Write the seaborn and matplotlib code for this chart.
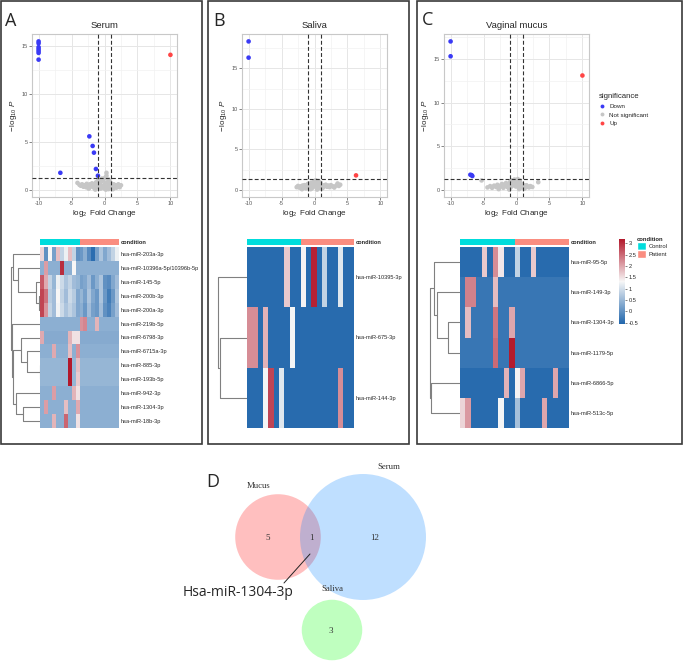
import numpy as np
import pandas as pd
import matplotlib
matplotlib.use("Agg")
import matplotlib.pyplot as plt
import seaborn as sns
from matplotlib.colors import LinearSegmentedColormap, ListedColormap
from matplotlib.patches import Circle, Rectangle, Patch
from matplotlib.lines import Line2D
from matplotlib.ticker import MultipleLocator

# ---------------- data ----------------
SIG_ORDER = ["Down", "Not significant", "Up"]
SIG_COLORS = {"Down": "#3a3af5", "Not significant": "#c6c6c6", "Up": "#ff4545"}

# serum volcano
SERUM_DOWN_FC = [-10, -10, -10, -10, -10, -10, -10, -6.7, -2.3, -1.8, -1.6, -1.3, -1.0]
SERUM_DOWN_P = [15.5, 15.3, 14.9, 14.7, 14.5, 14.3, 13.6, 1.8, 5.6, 4.6, 3.9, 2.2, 1.5]
SERUM_UP_FC = [10]
SERUM_UP_P = [14.1]
SERUM_NS_FC = [-4.1, -3.8, -3.6, -3.4, -3.2, -3.0, -2.8, -2.7, -2.5, -2.3, -2.2, -2.0, -1.9, -1.7, -1.6,
               -1.5, -1.3, -1.2, -1.0, -0.9, -0.8, -0.7, -0.6, -0.5, -0.4, -0.3, -0.2, -0.1, 0.0, 0.1,
               0.2, 0.3, 0.3, 0.4, 0.5, 0.6, 0.7, 0.8, 0.9, 1.0, 1.1, 1.2, 1.4, 1.5, 1.7,
               1.8, 2.0, 2.1, 2.3, 2.5, -2.4, -1.4, 0.2, 0.6, 1.3]
SERUM_NS_P = [0.75, 0.55, 0.45, 0.6, 0.35, 0.5, 0.3, 0.65, 0.45, 0.25, 0.6, 0.4, 0.7, 0.3, 0.55,
              0.2, 0.8, 0.45, 0.95, 0.3, 1.1, 0.6, 0.15, 0.9, 1.2, 0.4, 1.0, 0.2, 0.6, 1.3,
              0.35, 1.5, 1.8, 0.8, 0.2, 1.1, 0.5, 0.9, 0.3, 0.7, 0.45, 0.25, 0.6, 0.35, 0.5,
              0.25, 0.45, 0.6, 0.3, 0.5, 0.15, 0.05, 0.05, 0.1, 0.1]

# saliva volcano
SALIVA_DOWN_FC = [-10, -10]
SALIVA_DOWN_P = [18.3, 16.3]
SALIVA_UP_FC = [6.3]
SALIVA_UP_P = [1.8]
SALIVA_NS_FC = [-2.7, -2.5, -2.3, -2.1, -2.0, -1.8, -1.6, -1.5, -1.3, -1.1, -1.0, -0.8, -0.7, -0.5, -0.4,
                -0.2, -0.1, 0.0, 0.1, 0.2, 0.3, 0.4, 0.5, 0.6, 0.7, 0.8, 0.9, 1.0, 1.2, 1.3,
                1.5, 1.7, 1.9, 2.1, 2.3, 2.5, 2.8, 3.0, 3.3, 3.5, 3.7, 3.9, -1.9, -0.6, 0.4, 1.1]
SALIVA_NS_P = [0.35, 0.5, 0.3, 0.45, 0.25, 0.55, 0.35, 0.6, 0.2, 0.5, 0.75, 0.3, 0.6, 0.9, 0.2,
               0.7, 1.0, 0.45, 0.8, 1.2, 0.3, 0.95, 0.55, 1.1, 0.25, 0.7, 0.9, 0.4, 0.6, 0.3,
               0.5, 0.65, 0.4, 0.55, 0.35, 0.6, 0.45, 0.3, 0.55, 0.8, 0.5, 0.65, 0.1, 0.1, 0.05, 0.15]

# vaginal mucus volcano
MUCUS_DOWN_FC = [-10, -10, -7.0, -6.8, -6.7]
MUCUS_DOWN_P = [17.0, 15.3, 1.75, 1.7, 1.6]
MUCUS_UP_FC = [10]
MUCUS_UP_P = [13.1]
MUCUS_NS_FC = [-4.4, -4.0, -3.7, -3.4, -3.1, -2.9, -2.6, -2.4, -2.2, -2.0, -1.8, -1.6, -1.4, -1.2, -1.0,
               -0.9, -0.7, -0.6, -0.4, -0.3, -0.1, 0.0, 0.1, 0.2, 0.3, 0.4, 0.5, 0.6, 0.7, 0.8,
               1.0, 1.1, 1.3, 1.5, 1.7, 1.9, 2.1, 2.4, -5.3, 3.3, -2.7, -1.1, 0.4, 1.2]
MUCUS_NS_P = [0.3, 0.45, 0.25, 0.5, 0.35, 0.6, 0.3, 0.5, 0.7, 0.25, 0.55, 0.8, 0.35, 0.65, 0.9,
              0.3, 1.1, 0.5, 0.8, 1.2, 0.4, 1.0, 0.6, 1.25, 0.35, 0.9, 1.1, 0.5, 0.75, 0.3,
              0.6, 0.45, 0.3, 0.55, 0.4, 0.3, 0.45, 0.35, 1.1, 0.9, 0.1, 0.05, 0.1, 0.15]

CONDITION = ["Control"] * 10 + ["Patient"] * 10

SERUM_MIRS = ["hsa-miR-203a-3p", "hsa-miR-10396a-5p/10396b-5p", "hsa-miR-145-5p", "hsa-miR-200b-3p",
              "hsa-miR-200a-3p", "hsa-miR-219b-5p", "hsa-miR-6798-3p", "hsa-miR-6715a-3p",
              "hsa-miR-885-3p", "hsa-miR-193b-5p", "hsa-miR-942-3p", "hsa-miR-1304-3p", "hsa-miR-18b-3p"]
SERUM_EXPR = [
    [1.3, -0.4, 1.0, -0.2, 1.5, 0.5, 0.9, 1.5, 0.5, -0.4, -0.3, 0.0, -0.5, -0.9, -0.2, 0.3, -0.1, 0.2, 0.5, 0.9],
    [0, 1.8, 0, 0, 0, 2.8, 0, 0, 1.0, 0, 0, 0, 0, 0, 0, 0, 0, 0, 0, 0],
    [2.4, 1.7, 0.5, 0.1, 0.9, 0.6, 0.3, 0.5, 0.2, 0.1, -0.2, -0.1, 0.2, -0.3, 0.0, 0.3, -0.4, -0.5, -0.1, 0.2],
    [2.6, 2.2, 0.4, 0.2, 1.0, 0.5, 0.2, 0.6, 0.4, -0.1, 0.1, -0.2, 0.3, -0.1, -0.3, 0.3, -0.3, -0.7, -0.3, 0.3],
    [2.6, 1.9, 0.5, 0.2, 0.95, 0.6, 0.3, 0.5, 0.3, -0.1, 0.0, -0.3, 0.2, -0.2, -0.3, 0.2, -0.4, -0.6, -0.2, 0.2],
    [0, 0, 0, 0, 0, 0, 0, 0, 0, 0, 1.9, 2.0, 0, 0, 1.6, 0, 0, 0, 0, 0],
    [1.7, -0.05, -0.05, -0.05, -0.05, -0.05, -0.05, 1.6, 1.2, 1.2, -0.05, -0.05, -0.05, -0.05, -0.05, -0.05, -0.05, -0.05, -0.05, -0.05],
    [0, 0, 0, 1.7, 0, 0, 0, 1.5, 0, 1.9, 0, 0, 0, 0, 0, 0, 0, 0, 0, 0],
    [0.1, 0.1, 0.1, 0.1, 0.1, 0.1, 0.1, 3.0, 0.1, 1.5, 0.1, 0.1, 0.1, 0.1, 0.1, 0.1, 0.1, 0.1, 0.1, 0.1],
    [0.1, 0.1, 0.1, 0.1, 0.1, 0.1, 0.1, 3.0, 0.1, 1.4, 0.1, 0.1, 0.1, 0.1, 0.1, 0.1, 0.1, 0.1, 0.1, 0.1],
    [0, 0, 0, 1.8, 0, 0, 0, 0, 1.6, 1.2, 0, 0, 0, 0, 0, 0, 0, 0, 0, 0],
    [0, 1.8, 0, 0, 0, 0, 1.5, 0, 0, 1.7, 0, 0, 0, 0, 0, 0, 0, 0, 0, 0],
    [0, 0, 0, 1.6, 0, 0, 2.3, 0, 0, 1.2, 0, 0, 0, 0, 0, 0, 0, 0, 0, 0],
]
# merges: (child a, child b, height); new cluster ids follow the leaves
SERUM_TREE = [(3, 4, 4), (2, 13, 12), (1, 14, 65), (0, 15, 82), (8, 9, 1), (7, 17, 40),
              (6, 18, 58), (11, 12, 52), (10, 20, 72), (19, 21, 80), (5, 22, 84), (16, 23, 87)]

SALIVA_MIRS = ["hsa-miR-10395-3p", "hsa-miR-675-3p", "hsa-miR-144-3p"]
SALIVA_EXPR = [
    [-0.5, -0.5, -0.5, -0.5, -0.5, -0.5, -0.5, 1.7, -0.5, -0.5, 1.35, -0.5, 3.1, -0.5, 0.85, -0.5, -0.5, 1.1, -0.5, -0.5],
    [2.2, 2.2, -0.5, 1.9, -0.5, -0.5, -0.5, -0.5, 1.3, -0.5, -0.5, -0.5, -0.5, -0.5, -0.5, -0.5, -0.5, -0.5, -0.5, -0.5],
    [-0.5, -0.5, -0.5, 1.3, 2.8, -0.5, 1.1, -0.5, -0.5, -0.5, -0.5, -0.5, -0.5, -0.5, -0.5, -0.5, -0.5, 2.2, -0.5, -0.5],
]
SALIVA_TREE = [(1, 2, 27), (0, 3, 29)]

MUCUS_MIRS = ["hsa-miR-95-5p", "hsa-miR-149-3p", "hsa-miR-1304-3p", "hsa-miR-1179-5p",
              "hsa-miR-6866-5p", "hsa-miR-513c-5p"]
MUCUS_EXPR = [
    [-0.5, -0.5, -0.5, -0.5, 1.7, -0.5, 2.2, 1.45, -0.5, -0.5, 0.85, -0.5, -0.5, 1.7, -0.5, -0.5, -0.5, -0.5, -0.5, -0.5],
    [-0.35, 2.3, 2.3, -0.35, -0.35, -0.35, 1.8, -0.35, -0.35, -0.35, -0.35, -0.35, -0.35, -0.35, -0.35, -0.35, -0.35, -0.35, -0.35, -0.35],
    [-0.35, 1.8, -0.35, -0.35, -0.35, -0.35, 2.4, -0.35, -0.35, 2.0, -0.35, -0.35, -0.35, -0.35, -0.35, -0.35, -0.35, -0.35, -0.35, -0.35],
    [-0.35, -0.35, -0.35, -0.35, -0.35, -0.35, 2.5, -0.35, -0.35, 3.15, -0.35, -0.35, -0.35, -0.35, -0.35, -0.35, -0.35, -0.35, -0.35, -0.35],
    [-0.5, -0.5, -0.5, -0.5, -0.5, -0.5, -0.5, -0.5, 1.9, -0.5, 1.35, 2.0, -0.5, -0.5, -0.5, -0.5, -0.5, 2.0, -0.5, -0.5],
    [1.6, 2.1, -0.5, -0.5, -0.5, -0.5, -0.5, 1.3, -0.5, -0.5, 0.6, -0.5, -0.5, -0.5, -0.5, 2.0, -0.5, -0.5, -0.5, -0.5],
]
MUCUS_TREE = [(2, 3, 12), (1, 6, 23), (0, 7, 26), (4, 5, 29), (8, 9, 30)]

CBAR_TICKS = [-0.5, 0, 0.5, 1, 1.5, 2, 2.5, 3]

VENN_SETS = ["Mucus", "Serum", "Saliva"]
VENN_SIZES = [6, 13, 3]
VENN_REGIONS = ["5", "1", "12", "3"]

CYAN = "#00dcdc"
SALMON = "#fa8d80"
HEAT_CMAP = LinearSegmentedColormap.from_list("bwr_pheat", ["#2166ac", "#f7f7f7", "#b2182b"])

# ---------------- style ----------------
sns.set_theme(style="white")
plt.rcParams["font.family"] = ["Liberation Sans", "DejaVu Sans"]
plt.rcParams["axes.unicode_minus"] = False
plt.rcParams["mathtext.fontset"] = "custom"
plt.rcParams["mathtext.rm"] = "Liberation Sans"
plt.rcParams["mathtext.it"] = "Liberation Sans:italic"

W, H = 685, 661
fig = plt.figure(figsize=(W / 100, H / 100), dpi=100)


def box(x0, y0, x1, y1):
    return [x0 / W, 1 - y1 / H, (x1 - x0) / W, (y1 - y0) / H]


def volcano_frame(down_fc, down_p, ns_fc, ns_p, up_fc, up_p):
    return pd.DataFrame({
        "log2fc": down_fc + ns_fc + up_fc,
        "logp": down_p + ns_p + up_p,
        "significance": ["Down"] * len(down_fc) + ["Not significant"] * len(ns_fc) + ["Up"] * len(up_fc),
    })


def volcano(ax, df, title):
    ax.set_facecolor("white")
    ax.set_axisbelow(True)
    sns.scatterplot(data=df, x="log2fc", y="logp", hue="significance", hue_order=SIG_ORDER,
                    palette=SIG_COLORS, s=11, linewidth=0, ax=ax, legend=False, zorder=3)
    for v in (-1, 1):
        ax.axvline(v, ls=(0, (3.5, 2)), color="#333333", lw=0.8, zorder=4)
    ax.axhline(-np.log10(0.05), ls=(0, (3.5, 2)), color="#333333", lw=0.8, zorder=4)
    lo, hi = df["logp"].min(), df["logp"].max()
    pad = (hi - lo) * 0.05
    ax.set_ylim(lo - pad, hi + pad)
    ax.set_xlim(-11, 11)
    ax.set_xticks([-10, -5, 0, 5, 10])
    ax.xaxis.set_minor_locator(MultipleLocator(2.5))
    ax.yaxis.set_major_locator(MultipleLocator(5))
    ax.yaxis.set_minor_locator(MultipleLocator(2.5))
    ax.grid(which="major", color="#e6e6e6", lw=0.7)
    ax.grid(which="minor", color="#f2f2f2", lw=0.5)
    for s in ax.spines.values():
        s.set_color("#c8c8c8")
        s.set_linewidth(0.8)
    ax.tick_params(which="major", labelsize=4, colors="#555555", length=2, width=0.5, pad=1,
                   bottom=True, left=True)
    ax.tick_params(which="minor", length=0)
    ax.set_title(title, fontsize=6.8, pad=4)
    ax.set_xlabel(r"$\log_{2}$ Fold Change", fontsize=5.8, labelpad=1.5)
    ax.set_ylabel(r"$-\,\log_{10}\,P$", fontsize=5.8, labelpad=2)


def dendrogram(ax, merges, n, hmax):
    ypos = {i: i + 0.5 for i in range(n)}
    hgt = {i: 0.0 for i in range(n)}
    for k, (a, b, h) in enumerate(merges):
        ax.plot([hgt[a], h, h, hgt[b]], [ypos[a], ypos[a], ypos[b], ypos[b]],
                color="#808080", lw=0.8, solid_capstyle="butt")
        ypos[n + k] = (ypos[a] + ypos[b]) / 2
        hgt[n + k] = h
    ax.set_xlim(hmax, 0)
    ax.set_ylim(n, 0)
    ax.axis("off")


def heat_block(x0, x1, dx0, expr, mirs, tree, hmax, vmin, vmax, cbar_ax=None):
    ann = fig.add_axes(box(x0, 239, x1, 245))
    codes = [[0 if c == "Control" else 1 for c in CONDITION]]
    sns.heatmap(codes, ax=ann, cmap=ListedColormap([CYAN, SALMON]), cbar=False,
                xticklabels=False, yticklabels=["condition"])
    ann.yaxis.tick_right()
    ann.tick_params(axis="y", length=0, pad=1.5, labelsize=4.1, rotation=0)
    for t in ann.get_yticklabels():
        t.set_fontweight("bold")

    ax = fig.add_axes(box(x0, 247, x1, 428))
    df = pd.DataFrame(expr, index=mirs, columns=[f"S{i + 1}" for i in range(len(CONDITION))])
    sns.heatmap(df, ax=ax, cmap=HEAT_CMAP, vmin=vmin, vmax=vmax, xticklabels=False, yticklabels=True,
                cbar=cbar_ax is not None, cbar_ax=cbar_ax,
                cbar_kws={"ticks": CBAR_TICKS} if cbar_ax is not None else None)
    ax.yaxis.tick_right()
    ax.tick_params(axis="y", length=0, pad=1.5, labelsize=4.1, rotation=0)
    ax.set_xlabel("")
    ax.set_ylabel("")

    dax = fig.add_axes(box(dx0, 247, x0, 428))
    dendrogram(dax, tree, len(mirs), hmax)
    return ax


# ---------------- panel frames & letters ----------------
for (a, b, c, d) in [(1, 1, 202, 444), (208, 1, 409, 444), (417, 1, 682, 444)]:
    fig.add_artist(Rectangle((a / W, 1 - d / H), (c - a) / W, (d - b) / H, transform=fig.transFigure,
                             fill=False, ec="#3a3a3a", lw=1.2))
for letter, x, y in [("A", 5, 26), ("B", 213, 26), ("C", 422, 25), ("D", 206, 487)]:
    fig.text(x / W, 1 - y / H, letter, fontsize=13, family="Open Sans", va="baseline")

# ---------------- volcano plots ----------------
ax_a = fig.add_axes(box(32, 34, 177, 197))
volcano(ax_a, volcano_frame(SERUM_DOWN_FC, SERUM_DOWN_P, SERUM_NS_FC, SERUM_NS_P, SERUM_UP_FC, SERUM_UP_P), "Serum")
ax_b = fig.add_axes(box(242, 34, 387, 197))
volcano(ax_b, volcano_frame(SALIVA_DOWN_FC, SALIVA_DOWN_P, SALIVA_NS_FC, SALIVA_NS_P, SALIVA_UP_FC, SALIVA_UP_P), "Saliva")
ax_c = fig.add_axes(box(444, 34, 589, 197))
volcano(ax_c, volcano_frame(MUCUS_DOWN_FC, MUCUS_DOWN_P, MUCUS_NS_FC, MUCUS_NS_P, MUCUS_UP_FC, MUCUS_UP_P), "Vaginal mucus")

handles = [Line2D([], [], ls="", marker="o", ms=2.8, mec="none", mfc=SIG_COLORS[k]) for k in SIG_ORDER]
fig.legend(handles, SIG_ORDER, title="significance", loc="upper left",
           bbox_to_anchor=(599 / W, 1 - 93 / H), frameon=False, fontsize=4.5, title_fontsize=5.6,
           handlelength=0.8, handletextpad=0.8, labelspacing=0.55, borderpad=0, borderaxespad=0,
           alignment="left")

# ---------------- heatmaps ----------------
heat_block(40, 119, 10, SERUM_EXPR, SERUM_MIRS, SERUM_TREE, 90, -1.0, 3.0)
heat_block(247, 354, 212, SALIVA_EXPR, SALIVA_MIRS, SALIVA_TREE, 35, -0.56, 3.19)
cax = fig.add_axes(box(619, 239, 625, 324))
hm_c = heat_block(460, 569, 425, MUCUS_EXPR, MUCUS_MIRS, MUCUS_TREE, 35, -0.56, 3.19, cbar_ax=cax)
cax.tick_params(labelsize=4.1, length=1.5, width=0.4, pad=1)
cax.set_yticks(CBAR_TICKS)
cax.set_yticklabels(["-0.5", "0", "0.5", "1", "1.5", "2", "2.5", "3"])
for s in cax.spines.values():
    s.set_visible(False)

fig.legend([Patch(facecolor=CYAN), Patch(facecolor=SALMON)], ["Control", "Patient"], title="condition",
           loc="upper left", bbox_to_anchor=(637 / W, 1 - 237 / H), frameon=False, fontsize=4.2,
           title_fontproperties={"weight": "bold", "size": 4.2}, handlelength=1.6, handleheight=1.6,
           handletextpad=0.4, labelspacing=0.05, borderpad=0, borderaxespad=0, alignment="left")

# ---------------- Venn ----------------
vx = fig.add_axes(box(180, 455, 500, 661))
vx.set_xlim(180, 500)
vx.set_ylim(661, 455)
vx.axis("off")
scale = 17.47
centers = [(278, 537), (363, 537), (332, 630)]
fills = ["#ff0000", "#0080ff", "#00ff00"]
for (cx, cy), n, col in zip(centers, VENN_SIZES, fills):
    vx.add_patch(Circle((cx, cy), scale * np.sqrt(n), fc=col, alpha=0.25, ec="none"))
for name, (tx, ty) in zip(VENN_SETS, [(259, 486), (389, 467), (332, 589)]):
    vx.text(tx, ty, name, fontsize=6.3, family="Liberation Serif", ha="center", va="center", color="#333333")
for lab, (tx, ty) in zip(VENN_REGIONS, [(268, 538), (311, 538), (375, 538), (331, 631)]):
    vx.text(tx, ty, lab, fontsize=6.5, family="Liberation Serif", ha="center", va="center", color="#333333")
vx.plot([310, 284], [554, 583], color="#222222", lw=0.7)
vx.text(183, 593, "Hsa-miR-1304-3p", fontsize=10, family="Open Sans", ha="left", va="center")

fig.savefig("out.png", dpi=100)
